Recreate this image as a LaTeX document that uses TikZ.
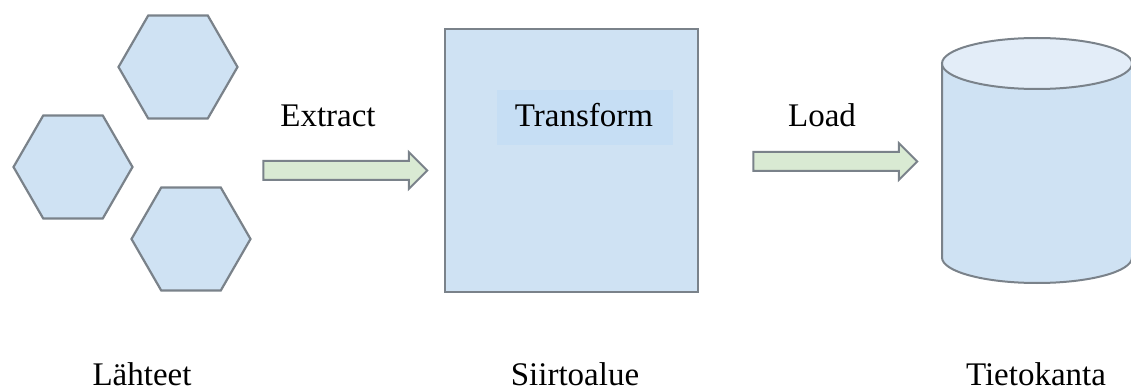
\documentclass[tikz,border=0pt]{standalone}
\usepackage{fontspec}
\setmainfont{Liberation Serif}
\usetikzlibrary{shapes.geometric, shapes.arrows}
\definecolor{boxblue}{HTML}{CFE2F3}
\definecolor{capblue}{HTML}{E3EDF8}
\definecolor{labelblue}{HTML}{C6DEF4}
\definecolor{arrowgreen}{HTML}{D9EAD3}
\definecolor{edgegray}{HTML}{7A828A}

\begin{document}
\begin{tikzpicture}[
    x=0.5pt, y=-0.5pt,
    every node/.style={font=\fontsize{16.5}{20}\selectfont, text=black},
    source/.style={regular polygon, regular polygon sides=6,
        minimum size=59.5pt, inner sep=0pt, draw=edgegray,
        fill=boxblue, line width=1.1pt},
    flow/.style={single arrow, draw=edgegray, fill=arrowgreen,
        line width=1pt, minimum height=82pt, minimum width=17.5pt,
        single arrow head extend=4.5pt, inner xsep=0pt, inner ysep=4.25pt},
    stage/.style={rectangle, draw=edgegray, fill=boxblue,
        line width=1.2pt, minimum width=126.5pt, minimum height=131.5pt},
    store line/.style={draw=edgegray, line width=1pt},
    caption/.style={anchor=base}
    ]
    \useasboundingbox (0,0) rectangle (1131,390);
    % Sources
    \node[source] (src1) at (178,67) {};
    \node[source] (src2) at (73,167) {};
    \node[source] (src3) at (191,239) {};
    % Staging area
    \node[stage] (stage) at (571.5,160.5) {};
    \node[fill=labelblue, minimum width=88pt, minimum height=27.5pt,
        inner sep=0pt] (trans) at (585,117.5) {};
    \node[caption] (transtext) at (584,127) {Transform};
    % Database
    \fill[boxblue] (942,63.5) -- (942,257.5)
        arc[start angle=180, end angle=360, x radius=47.5pt, y radius=12.75pt]
        -- (1132,63.5) -- cycle;
    \draw[store line] (942,63.5) -- (942,257.5)
        arc[start angle=180, end angle=360, x radius=47.5pt, y radius=12.75pt]
        -- (1132,63.5);
    \draw[store line, fill=capblue] (1037,63.5)
        ellipse[x radius=47.5pt, y radius=12.75pt];
    \coordinate (db) at (1037,160.5);
    % Arrows
    \node[flow] (extract) at (340.5,170.5) {};
    \node[flow] (load) at (830.5,161.5) {};
    \node[caption] (extracttext) at (328,127) {Extract};
    \node[caption] (loadtext) at (822,127) {Load};
    % Captions
    \node[caption] (srctext) at (142,385) {Lähteet};
    \node[caption] (stagetext) at (575,385) {Siirtoalue};
    \node[caption] (dbtext) at (1036,385) {Tietokanta};
\end{tikzpicture}
\end{document}
